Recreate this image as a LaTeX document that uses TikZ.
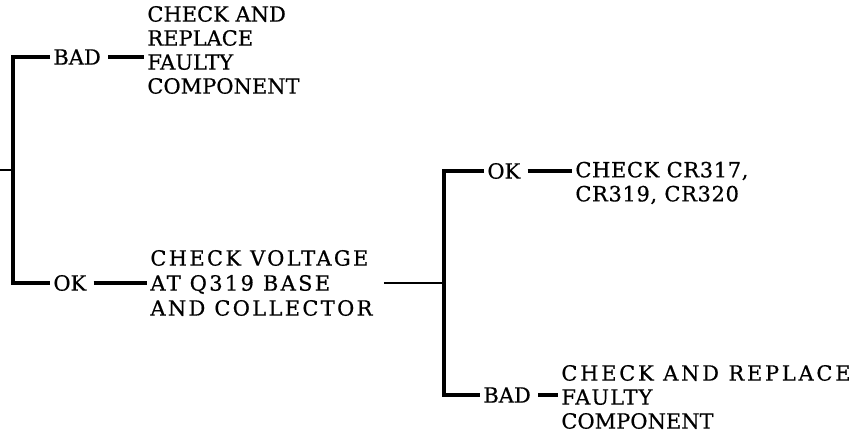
\documentclass[tikz,border=0pt]{standalone}
\usepackage{fontspec}
\setmainfont{DejaVu Serif}[FakeBold=0.6]
\begin{document}
\begin{tikzpicture}[x=0.5pt, y=-0.5pt, every node/.style={font=\fontsize{10.5}{12}\selectfont, inner sep=1.5pt}]
  \tikzstyle{word}=[anchor=west]
  \tikzstyle{txt}=[anchor=west,align=left]
  \tikzstyle{trunk}=[line width=2pt]
  \tikzstyle{leg}=[line width=1.6pt,shorten <=2pt]
  \tikzstyle{feed}=[line width=1.2pt]
  \useasboundingbox (0,0) rectangle (868,438);
  \coordinate (in) at (0,170);
  \coordinate (jl) at (13,170);
  \coordinate (jr) at (444,283);
  \node[word] (bad1) at (50,57) {BAD};
  \node[txt] (fix1) at (144,50) {CHECK AND\\REPLACE\\FAULTY\\COMPONENT};
  \node[word] (ok1) at (50,283) {OK};
  \node[txt,font=\fontsize{10.5}{12.5}\selectfont\addfontfeature{LetterSpace=11}] (volt) at (147,283) {CHECK VOLTAGE\\AT Q319 BASE\\AND COLLECTOR};
  \node[word] (ok2) at (484,171) {OK};
  \node[txt,font=\fontsize{10.5}{12}\selectfont\addfontfeature{LetterSpace=3}] (diode) at (572,183) {CHECK CR317,\\CR319, CR320};
  \node[word] (bad2) at (480,395) {BAD};
  \node[txt] (fix2) at (558,397) {{\addfontfeature{LetterSpace=13}CHECK AND REPLACE}\\{\addfontfeature{LetterSpace=5}FAULTY}\\COMPONENT};
  \draw[feed] (in) -- (jl);
  \draw[trunk] (bad1.west) -| (jl) |- (ok1.west);
  \draw[leg] (bad1.east) -- (bad1.east -| fix1.west);
  \draw[leg] (ok1.east) -- (ok1.east -| volt.west);
  \draw[feed,shorten <=4pt] (volt) -- (jr);
  \draw[trunk] (ok2.west) -| (jr) |- (bad2.west);
  \draw[leg] (ok2.east) -- (ok2.east -| diode.west);
  \draw[leg] (bad2.east) -- (bad2.east -| fix2.west);
\end{tikzpicture}
\end{document}
